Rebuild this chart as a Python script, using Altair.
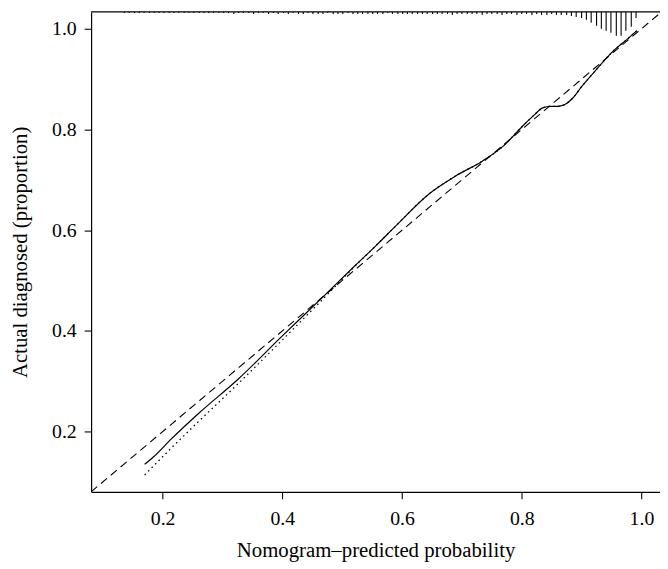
import altair as alt
import pandas as pd

# ---- data ----
# ideal (45-degree) reference line end points
ideal_x = [0.0805, 1.031]
ideal_y = [0.0805, 1.031]

# bias-corrected calibration curve (solid)
bc_x = [0.170, 0.185, 0.215, 0.260, 0.326, 0.400, 0.470, 0.520, 0.557, 0.590,
        0.645, 0.690, 0.734, 0.770, 0.800, 0.821, 0.835, 0.848, 0.860, 0.871,
        0.885, 0.900, 0.921, 0.954, 0.975, 0.992]
bc_y = [0.135, 0.150, 0.186, 0.236, 0.304, 0.390, 0.470, 0.528, 0.570, 0.609,
        0.672, 0.708, 0.737, 0.768, 0.805, 0.829, 0.843, 0.846, 0.846, 0.849,
        0.862, 0.885, 0.914, 0.957, 0.978, 0.996]

# apparent calibration curve (dotted)
ap_x = [0.170, 0.215, 0.260, 0.326, 0.400, 0.470, 0.520, 0.557, 0.590, 0.645,
        0.690, 0.734, 0.770, 0.800, 0.821, 0.835, 0.848, 0.860, 0.871, 0.885,
        0.900, 0.921, 0.954, 0.975, 0.992]
ap_y = [0.114, 0.168, 0.220, 0.295, 0.382, 0.466, 0.527, 0.570, 0.609, 0.672,
        0.708, 0.737, 0.768, 0.805, 0.829, 0.843, 0.846, 0.846, 0.849, 0.862,
        0.885, 0.914, 0.957, 0.978, 0.996]

# rug of predicted probabilities along the top (position, relative frequency)
rug_x = [0.136, 0.144, 0.153, 0.161, 0.169, 0.178, 0.186, 0.194, 0.202, 0.211,
         0.219, 0.227, 0.236, 0.244, 0.252, 0.261, 0.269, 0.277, 0.285, 0.294,
         0.302, 0.310, 0.319, 0.327, 0.335, 0.344, 0.352, 0.360, 0.368, 0.377,
         0.385, 0.393, 0.402, 0.410, 0.418, 0.427, 0.435, 0.443, 0.451, 0.460,
         0.468, 0.476, 0.485, 0.493, 0.501, 0.510, 0.518, 0.526, 0.534, 0.543,
         0.551, 0.559, 0.568, 0.576, 0.584, 0.593, 0.601, 0.609, 0.617, 0.626,
         0.634, 0.642, 0.651, 0.659, 0.667, 0.676, 0.684, 0.692, 0.700, 0.709,
         0.717, 0.725, 0.734, 0.742, 0.750, 0.759, 0.767, 0.775, 0.783, 0.792,
         0.800, 0.808, 0.817, 0.825, 0.833, 0.842, 0.850, 0.858, 0.866, 0.875,
         0.883, 0.891, 0.900, 0.908, 0.916, 0.925, 0.933, 0.941, 0.949, 0.958,
         0.966, 0.974, 0.983, 0.991]
rug_f = [1, 1, 1, 1, 1, 1, 1, 1, 1, 1,
         1, 1, 1, 1, 1, 1, 1, 1, 1, 1,
         1, 1, 2, 1, 1, 1, 2, 1, 1, 2,
         1, 2, 1, 2, 1, 2, 2, 1, 2, 2,
         2, 1, 2, 2, 2, 1, 2, 2, 2, 2,
         2, 2, 2, 1, 2, 2, 2, 2, 2, 2,
         2, 2, 2, 2, 2, 2, 3, 2, 2, 2,
         2, 2, 3, 2, 2, 2, 3, 2, 2, 3,
         2, 2, 3, 2, 3, 3, 2, 3, 3, 3,
         4, 5, 6, 8, 11, 14, 17, 19, 21, 24,
         24, 19, 15, 6]

x_ticks = [0.2, 0.4, 0.6, 0.8, 1.0]
y_ticks = [0.2, 0.4, 0.6, 0.8, 1.0]
x_dom = [0.0805, 1.031]
y_dom = [0.0805, 1.0334]

FONT = "Liberation Serif"

ideal = pd.DataFrame({"x": ideal_x, "y": ideal_y})
bc = pd.DataFrame({"x": bc_x, "y": bc_y})
ap = pd.DataFrame({"x": ap_x, "y": ap_y})
n = min(len(rug_x), len(rug_f))
rug = pd.DataFrame({"x": rug_x[:n], "f": rug_f[:n]})
rug["top"] = y_dom[1]
rug["bot"] = y_dom[1] - rug["f"] / 508.9
frame_top = pd.DataFrame({"x": [x_dom[0]], "x2": [x_dom[1]], "y": [y_dom[1]]})

xs = alt.Scale(domain=x_dom, nice=False, zero=False)
ys = alt.Scale(domain=y_dom, nice=False, zero=False)

x_axis = alt.Axis(values=x_ticks, format=".1f", grid=False,
                  title="Nomogram\u2013predicted probability",
                  tickSize=7, labelPadding=10, titlePadding=11)
y_axis = alt.Axis(values=y_ticks, format=".1f", grid=False,
                  title="Actual diagnosed (proportion)",
                  tickSize=7, labelPadding=8, titlePadding=21)

base_enc = dict(
    x=alt.X("x:Q", scale=xs, axis=x_axis),
    y=alt.Y("y:Q", scale=ys, axis=y_axis),
)

ideal_line = alt.Chart(ideal).mark_line(
    color="black", strokeWidth=1.1, strokeDash=[8, 5], clip=True
).encode(**base_enc)

bc_line = alt.Chart(bc).mark_line(
    color="black", strokeWidth=1.2, interpolate="monotone"
).encode(**base_enc)

ap_line = alt.Chart(ap).mark_line(
    color="black", strokeWidth=1.3, strokeDash=[1.5, 3.5], interpolate="monotone"
).encode(**base_enc)

rug_marks = alt.Chart(rug).mark_rule(color="black", strokeWidth=1.1).encode(
    x=alt.X("x:Q", scale=xs, axis=x_axis),
    y=alt.Y("top:Q", scale=ys, axis=y_axis),
    y2="bot:Q",
)

top_frame = alt.Chart(frame_top).mark_rule(color="black", strokeWidth=1.2).encode(
    x=alt.X("x:Q", scale=xs, axis=x_axis),
    x2="x2:Q",
    y=alt.Y("y:Q", scale=ys, axis=y_axis),
)

chart = alt.layer(ideal_line, bc_line, ap_line, rug_marks, top_frame).properties(
    width=575,
    height=485,
    autosize=alt.AutoSizeParams(type="none"),
    padding={"left": 84, "top": 1, "right": 0, "bottom": 72},
).configure_view(stroke=None).configure_axis(
    domainColor="black", domainWidth=1.2, tickColor="black", tickWidth=1.1,
    labelFont=FONT, labelFontSize=20, labelColor="black",
    titleFont=FONT, titleFontSize=21, titleFontWeight="normal", titleColor="black",
)

chart.save("out.html", embed_options={"renderer": "svg", "actions": False})
